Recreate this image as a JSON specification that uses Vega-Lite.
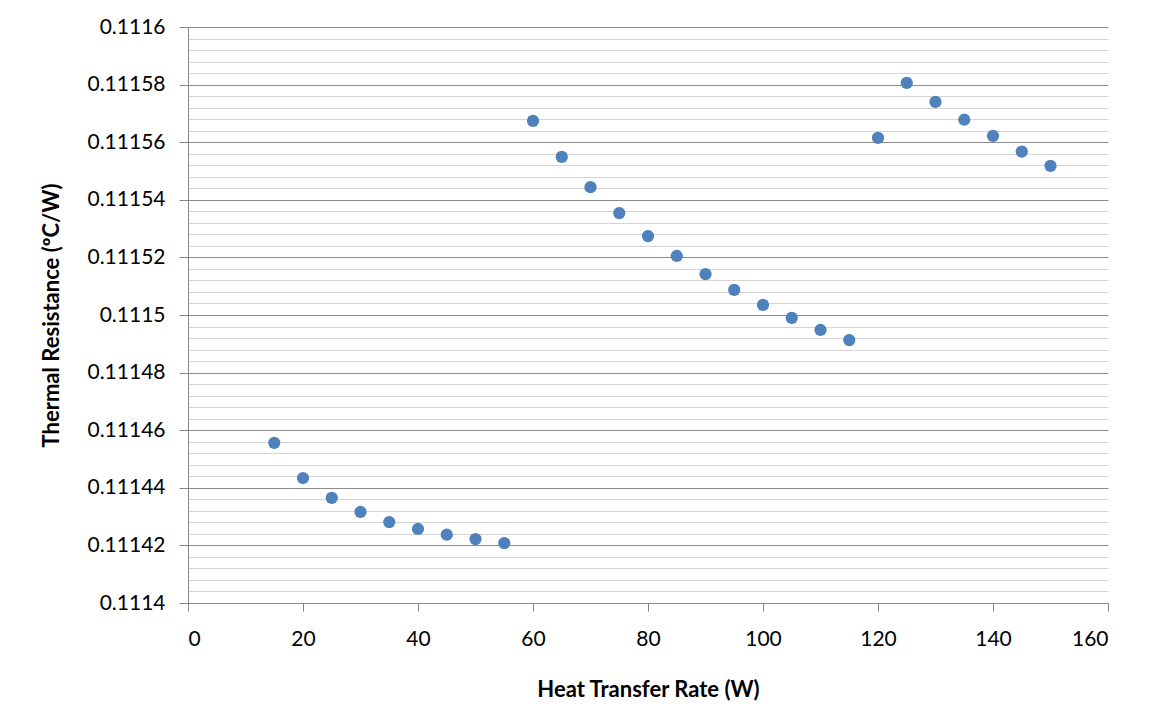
{
  "$schema": "https://vega.github.io/schema/vega-lite/v6.json",
  "width": 920,
  "height": 576,
  "autosize": {"type": "none"},
  "padding": {"left": 188, "top": 27, "right": 44, "bottom": 124},
  "background": "white",
  "config": {
    "view": {"stroke": null},
    "font": "Lato"
  },
  "data": {
    "values": [
      {"q": 15, "r": 0.1114556},
      {"q": 20, "r": 0.1114434},
      {"q": 25, "r": 0.1114365},
      {"q": 30, "r": 0.1114316},
      {"q": 35, "r": 0.1114281},
      {"q": 40, "r": 0.1114257},
      {"q": 45, "r": 0.1114237},
      {"q": 50, "r": 0.1114222},
      {"q": 55, "r": 0.1114208},
      {"q": 60, "r": 0.1115674},
      {"q": 65, "r": 0.1115549},
      {"q": 70, "r": 0.1115444},
      {"q": 75, "r": 0.1115354},
      {"q": 80, "r": 0.1115274},
      {"q": 85, "r": 0.1115205},
      {"q": 90, "r": 0.1115142},
      {"q": 95, "r": 0.1115087},
      {"q": 100, "r": 0.1115035},
      {"q": 105, "r": 0.111499},
      {"q": 110, "r": 0.1114948},
      {"q": 115, "r": 0.1114913},
      {"q": 120, "r": 0.1115615},
      {"q": 125, "r": 0.1115806},
      {"q": 130, "r": 0.111574},
      {"q": 135, "r": 0.1115678},
      {"q": 140, "r": 0.1115622},
      {"q": 145, "r": 0.1115567},
      {"q": 150, "r": 0.1115518}
    ]
  },
  "mark": {"type": "circle", "color": "#4F81BD", "opacity": 1, "size": 150},
  "encoding": {
    "x": {
      "field": "q",
      "type": "quantitative",
      "scale": {"domain": [0, 160], "nice": false, "zero": false},
      "axis": {
        "title": "Heat Transfer Rate (W)",
        "values": [0, 20, 40, 60, 80, 100, 120, 140, 160],
        "grid": false,
        "domainColor": "#868686",
        "tickColor": "#868686",
        "tickSize": 8,
        "labelFontSize": 21,
        "labelColor": "#000000",
        "labelPadding": 17,
        "titleFontSize": 22,
        "titleFontWeight": "bold",
        "titleColor": "#000000",
        "titlePadding": 30
      }
    },
    "y": {
      "field": "r",
      "type": "quantitative",
      "scale": {"domain": [0.1114, 0.1116], "nice": false, "zero": false},
      "axis": {
        "title": "Thermal Resistance (ºC/W)",
        "values": [0.1114, 0.111404, 0.111408, 0.111412, 0.111416, 0.11142, 0.111424, 0.111428, 0.111432, 0.111436, 0.11144, 0.111444, 0.111448, 0.111452, 0.111456, 0.11146, 0.111464, 0.111468, 0.111472, 0.111476, 0.11148, 0.111484, 0.111488, 0.111492, 0.111496, 0.1115, 0.111504, 0.111508, 0.111512, 0.111516, 0.11152, 0.111524, 0.111528, 0.111532, 0.111536, 0.11154, 0.111544, 0.111548, 0.111552, 0.111556, 0.11156, 0.111564, 0.111568, 0.111572, 0.111576, 0.11158, 0.111584, 0.111588, 0.111592, 0.111596, 0.1116],
        "format": ".5~f",
        "labelExpr": "abs(datum.value*50000 - round(datum.value*50000)) < 0.01 ? datum.label : ''",
        "grid": true,
        "gridColor": {"condition": {"test": "abs(datum.value*50000 - round(datum.value*50000)) < 0.01", "value": "#8c8c8c"}, "value": "#d4d4d4"},
        "gridWidth": 1,
        "tickColor": "#868686",
        "tickOpacity": {"condition": {"test": "abs(datum.value*50000 - round(datum.value*50000)) < 0.01", "value": 1}, "value": 0},
        "tickSize": 9,
        "domainColor": "#868686",
        "labelFontSize": 21,
        "labelColor": "#000000",
        "labelPadding": 14,
        "labelOverlap": false,
        "labelBound": false,
        "titleFontSize": 22,
        "titleFontWeight": "bold",
        "titleColor": "#000000",
        "titlePadding": 23
      }
    }
  }
}
